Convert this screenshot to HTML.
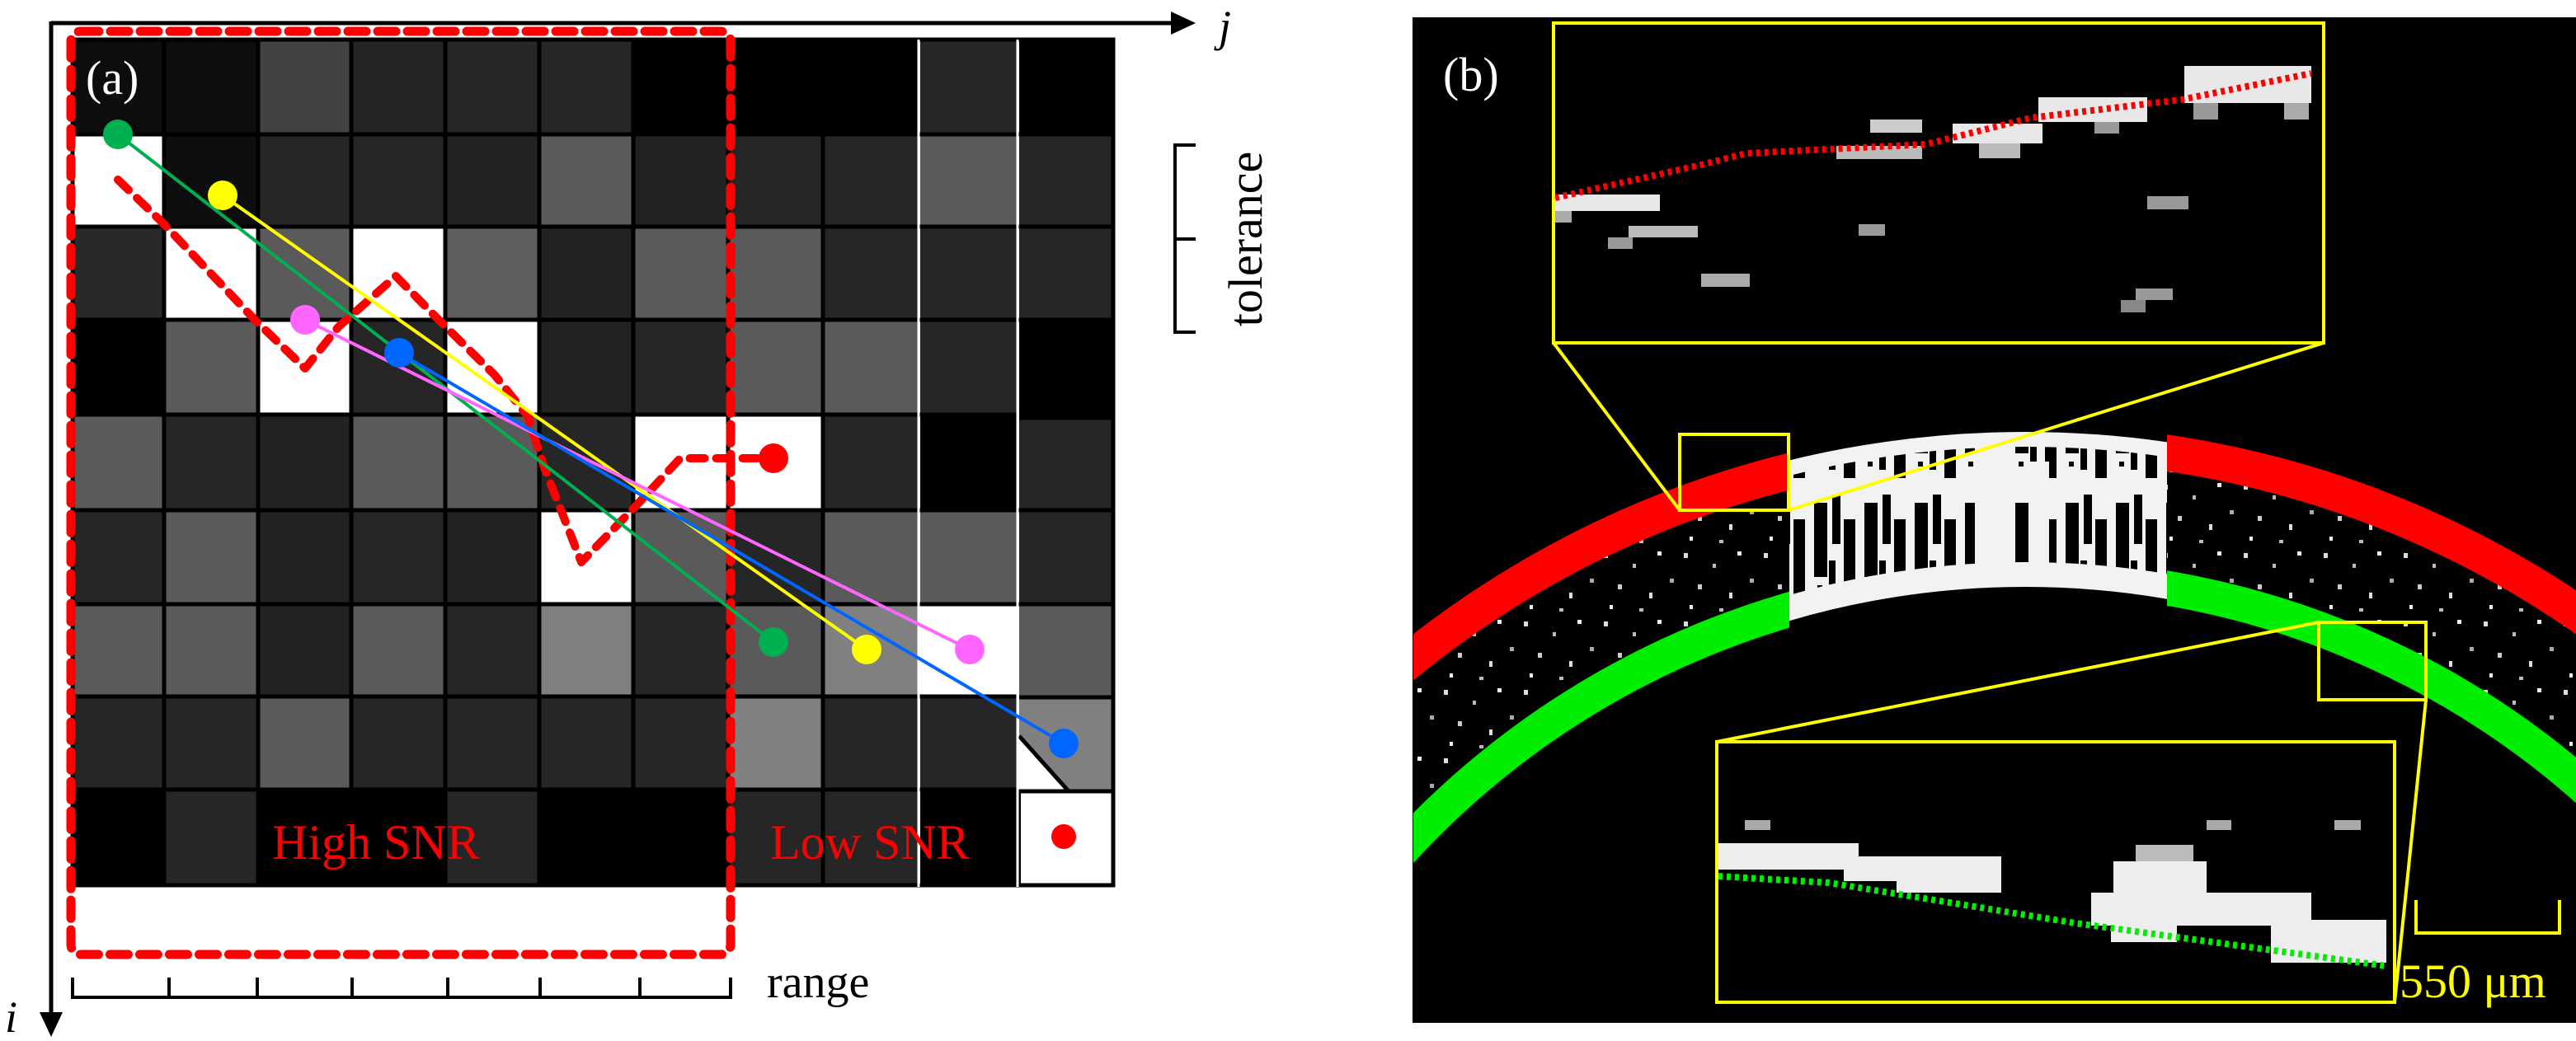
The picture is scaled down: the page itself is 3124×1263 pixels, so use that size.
<!DOCTYPE html>
<html><head><meta charset="utf-8"><style>
html,body{margin:0;padding:0;background:#fff;width:3124px;height:1263px;overflow:hidden;}
svg{display:block;position:absolute;left:0;top:0;}
svg text{font-family:"Liberation Serif",serif !important;}
</style></head><body>
<svg width="3124" height="1263" viewBox="0 0 3124 1263" xmlns="http://www.w3.org/2000/svg">
<defs>
<pattern id="spk" width="97" height="83" patternUnits="userSpaceOnUse">
<rect width="97" height="83" fill="#000"/>
<rect x="5" y="7" width="5" height="6" fill="#ddd"/>
<rect x="40" y="20" width="4" height="5" fill="#bbb"/>
<rect x="70" y="5" width="5" height="5" fill="#eee"/>
<rect x="22" y="45" width="5" height="6" fill="#ccc"/>
<rect x="60" y="55" width="4" height="7" fill="#ddd"/>
<rect x="85" y="38" width="5" height="5" fill="#aaa"/>
<rect x="12" y="70" width="4" height="5" fill="#eee"/>
<rect x="48" y="74" width="5" height="4" fill="#bbb"/>
</pattern>
<pattern id="blk" width="61" height="150" patternUnits="userSpaceOnUse">
<rect width="61" height="150" fill="#f2f2f2"/>
<rect x="4" y="10" width="16" height="90" fill="#000"/>
<rect x="26" y="0" width="10" height="60" fill="#000"/>
<rect x="40" y="30" width="14" height="100" fill="#000"/>
<rect x="22" y="80" width="8" height="40" fill="#000"/>
<rect x="8" y="110" width="6" height="6" fill="#000"/>
</pattern>
<clipPath id="cl"><rect x="1714" y="20" width="456" height="1220"/></clipPath>
<clipPath id="cm"><rect x="2170" y="20" width="458" height="1220"/></clipPath>
<clipPath id="cr"><rect x="2628" y="20" width="496" height="1220"/></clipPath>
<clipPath id="cb"><rect x="1714" y="20" width="1410" height="1220"/></clipPath>
</defs>

<g id="grid">
<rect x="88" y="48" width="111" height="115" fill="#0d0d0d"/>
<rect x="199" y="48" width="114" height="115" fill="#0e0e0e"/>
<rect x="313" y="48" width="113" height="115" fill="#424242"/>
<rect x="426" y="48" width="114" height="115" fill="#242424"/>
<rect x="540" y="48" width="114" height="115" fill="#262626"/>
<rect x="654" y="48" width="114" height="115" fill="#262626"/>
<rect x="768" y="48" width="115" height="115" fill="#000"/>
<rect x="883" y="48" width="115" height="115" fill="#000"/>
<rect x="998" y="48" width="115" height="115" fill="#000"/>
<rect x="1116" y="48" width="117" height="115" fill="#262626"/>
<rect x="1236" y="48" width="114" height="115" fill="#000"/>
<rect x="88" y="163" width="111" height="112" fill="#fff"/>
<rect x="199" y="163" width="114" height="112" fill="#0e0e0e"/>
<rect x="313" y="163" width="113" height="112" fill="#262626"/>
<rect x="426" y="163" width="114" height="112" fill="#262626"/>
<rect x="540" y="163" width="114" height="112" fill="#222"/>
<rect x="654" y="163" width="114" height="112" fill="#5a5a5a"/>
<rect x="768" y="163" width="115" height="112" fill="#222"/>
<rect x="883" y="163" width="115" height="112" fill="#262626"/>
<rect x="998" y="163" width="115" height="112" fill="#262626"/>
<rect x="1116" y="163" width="117" height="112" fill="#5a5a5a"/>
<rect x="1236" y="163" width="114" height="112" fill="#262626"/>
<rect x="88" y="275" width="111" height="113" fill="#292929"/>
<rect x="199" y="275" width="114" height="113" fill="#fff"/>
<rect x="313" y="275" width="113" height="113" fill="#5a5a5a"/>
<rect x="426" y="275" width="114" height="113" fill="#fff"/>
<rect x="540" y="275" width="114" height="113" fill="#5e5e5e"/>
<rect x="654" y="275" width="114" height="113" fill="#222"/>
<rect x="768" y="275" width="115" height="113" fill="#5a5a5a"/>
<rect x="883" y="275" width="115" height="113" fill="#5a5a5a"/>
<rect x="998" y="275" width="115" height="113" fill="#262626"/>
<rect x="1116" y="275" width="117" height="113" fill="#262626"/>
<rect x="1236" y="275" width="114" height="113" fill="#262626"/>
<rect x="88" y="388" width="111" height="115" fill="#000"/>
<rect x="199" y="388" width="114" height="115" fill="#5a5a5a"/>
<rect x="313" y="388" width="113" height="115" fill="#fff"/>
<rect x="426" y="388" width="114" height="115" fill="#262626"/>
<rect x="540" y="388" width="114" height="115" fill="#fff"/>
<rect x="654" y="388" width="114" height="115" fill="#222"/>
<rect x="768" y="388" width="115" height="115" fill="#262626"/>
<rect x="883" y="388" width="115" height="115" fill="#5a5a5a"/>
<rect x="998" y="388" width="115" height="115" fill="#5a5a5a"/>
<rect x="1116" y="388" width="117" height="115" fill="#262626"/>
<rect x="1236" y="388" width="114" height="119" fill="#000"/>
<rect x="88" y="503" width="111" height="116" fill="#5a5a5a"/>
<rect x="199" y="503" width="114" height="116" fill="#262626"/>
<rect x="313" y="503" width="113" height="116" fill="#222"/>
<rect x="426" y="503" width="114" height="116" fill="#5a5a5a"/>
<rect x="540" y="503" width="114" height="116" fill="#5a5a5a"/>
<rect x="654" y="503" width="114" height="116" fill="#262626"/>
<rect x="768" y="503" width="115" height="116" fill="#fff"/>
<rect x="883" y="503" width="115" height="116" fill="#fff"/>
<rect x="998" y="503" width="115" height="116" fill="#262626"/>
<rect x="1116" y="503" width="117" height="116" fill="#000"/>
<rect x="1236" y="507" width="114" height="112" fill="#262626"/>
<rect x="88" y="619" width="111" height="114" fill="#262626"/>
<rect x="199" y="619" width="114" height="114" fill="#5a5a5a"/>
<rect x="313" y="619" width="113" height="114" fill="#222"/>
<rect x="426" y="619" width="114" height="114" fill="#262626"/>
<rect x="540" y="619" width="114" height="114" fill="#222"/>
<rect x="654" y="619" width="114" height="114" fill="#fff"/>
<rect x="768" y="619" width="115" height="114" fill="#5a5a5a"/>
<rect x="883" y="619" width="115" height="114" fill="#262626"/>
<rect x="998" y="619" width="115" height="114" fill="#5a5a5a"/>
<rect x="1116" y="619" width="117" height="114" fill="#5a5a5a"/>
<rect x="1236" y="619" width="114" height="114" fill="#262626"/>
<rect x="88" y="733" width="111" height="112" fill="#5a5a5a"/>
<rect x="199" y="733" width="114" height="112" fill="#5a5a5a"/>
<rect x="313" y="733" width="113" height="112" fill="#222"/>
<rect x="426" y="733" width="114" height="112" fill="#5a5a5a"/>
<rect x="540" y="733" width="114" height="112" fill="#262626"/>
<rect x="654" y="733" width="114" height="112" fill="#808080"/>
<rect x="768" y="733" width="115" height="112" fill="#262626"/>
<rect x="883" y="733" width="115" height="112" fill="#5a5a5a"/>
<rect x="998" y="733" width="115" height="112" fill="#808080"/>
<rect x="1116" y="733" width="117" height="112" fill="#fff"/>
<rect x="1236" y="733" width="114" height="113" fill="#5a5a5a"/>
<rect x="88" y="845" width="111" height="113" fill="#262626"/>
<rect x="199" y="845" width="114" height="113" fill="#262626"/>
<rect x="313" y="845" width="113" height="113" fill="#5a5a5a"/>
<rect x="426" y="845" width="114" height="113" fill="#262626"/>
<rect x="540" y="845" width="114" height="113" fill="#262626"/>
<rect x="654" y="845" width="114" height="113" fill="#262626"/>
<rect x="768" y="845" width="115" height="113" fill="#262626"/>
<rect x="883" y="845" width="115" height="113" fill="#808080"/>
<rect x="998" y="845" width="115" height="113" fill="#262626"/>
<rect x="1116" y="845" width="117" height="113" fill="#262626"/>
<rect x="1236" y="846" width="114" height="114" fill="#808080"/>
<polygon points="1236,893 1236,960 1296,960" fill="#fff"/>
<line x1="1236" y1="893" x2="1296" y2="960" stroke="#000" stroke-width="5"/>
<rect x="88" y="958" width="111" height="116" fill="#000"/>
<rect x="199" y="958" width="114" height="116" fill="#262626"/>
<rect x="313" y="958" width="113" height="116" fill="#000"/>
<rect x="426" y="958" width="114" height="116" fill="#000"/>
<rect x="540" y="958" width="114" height="116" fill="#262626"/>
<rect x="654" y="958" width="114" height="116" fill="#000"/>
<rect x="768" y="958" width="115" height="116" fill="#000"/>
<rect x="883" y="958" width="115" height="116" fill="#262626"/>
<rect x="998" y="958" width="115" height="116" fill="#262626"/>
<rect x="1116" y="958" width="117" height="116" fill="#000"/>
<rect x="1236" y="960" width="114" height="114" fill="#fff" stroke="#000" stroke-width="4"/>
</g>
<g stroke="#000" stroke-width="5">
<line x1="199" y1="48" x2="199" y2="1074"/>
<line x1="313" y1="48" x2="313" y2="1074"/>
<line x1="426" y1="48" x2="426" y2="1074"/>
<line x1="540" y1="48" x2="540" y2="1074"/>
<line x1="654" y1="48" x2="654" y2="1074"/>
<line x1="768" y1="48" x2="768" y2="1074"/>
<line x1="883" y1="48" x2="883" y2="1074"/>
<line x1="998" y1="48" x2="998" y2="1074"/>
<line x1="88" y1="163" x2="1350" y2="163"/>
<line x1="88" y1="275" x2="1350" y2="275"/>
<line x1="88" y1="388" x2="1350" y2="388"/>
<line x1="88" y1="503" x2="1233" y2="503"/>
<line x1="1236" y1="507" x2="1350" y2="507"/>
<line x1="88" y1="619" x2="1350" y2="619"/>
<line x1="88" y1="733" x2="1350" y2="733"/>
<line x1="88" y1="845" x2="1233" y2="845"/>
<line x1="1236" y1="846" x2="1350" y2="846"/>
<line x1="88" y1="958" x2="1233" y2="958"/>
<line x1="1236" y1="960" x2="1350" y2="960"/>
<rect x="88" y="48" width="1262" height="1026" fill="none"/>
</g>
<line x1="1114" y1="48" x2="1114" y2="1076" stroke="#fff" stroke-width="3"/>
<line x1="1234" y1="48" x2="1234" y2="1076" stroke="#fff" stroke-width="3"/>

<line x1="62" y1="28" x2="1425" y2="28" stroke="#000" stroke-width="5"/>
<polygon points="1420,14 1450,28 1420,42" fill="#000"/>
<line x1="62" y1="26" x2="62" y2="1232" stroke="#000" stroke-width="5"/>
<polygon points="48,1228 62,1258 76,1228" fill="#000"/>
<text x="1478" y="50" font-size="54" font-style="italic">j</text>
<text x="6" y="1252" font-size="54" font-style="italic">i</text>

<rect x="86" y="38" width="800" height="1120" rx="12" fill="none" stroke="#f00" stroke-width="11" stroke-dasharray="22 14" stroke-linecap="round"/>

<polyline points="143,218 197,270 310,389 370,447 410,397 480,335 532,388 600,455 640,505 660,567 705,682 770,615 825,556 938,556" fill="none" stroke="#f00" stroke-width="10" stroke-dasharray="18 14" stroke-linecap="round" stroke-linejoin="round"/>

<g stroke-width="4">
<line x1="143" y1="163" x2="938" y2="779" stroke="#00b050"/>
<line x1="270" y1="237" x2="1051" y2="788" stroke="#ffff00"/>
<line x1="370" y1="388" x2="1176" y2="788" stroke="#ff66ff"/>
<line x1="484" y1="428" x2="1290" y2="902" stroke="#0066ff"/>
</g>
<circle cx="143" cy="163" r="18" fill="#00b050"/>
<circle cx="938" cy="779" r="18" fill="#00b050"/>
<circle cx="270" cy="237" r="18" fill="#ffff00"/>
<circle cx="1051" cy="788" r="18" fill="#ffff00"/>
<circle cx="370" cy="388" r="18" fill="#ff66ff"/>
<circle cx="1176" cy="788" r="18" fill="#ff66ff"/>
<circle cx="484" cy="428" r="18" fill="#0066ff"/>
<circle cx="1290" cy="902" r="18" fill="#0066ff"/>
<circle cx="938" cy="556" r="18" fill="#f00"/>
<circle cx="1290" cy="1015" r="15" fill="#f00"/>

<text x="104" y="114" font-size="58" fill="#fff">(a)</text>
<text x="330" y="1042" font-size="60" fill="#f00">High SNR</text>
<text x="934" y="1042" font-size="60" fill="#f00">Low SNR</text>

<g stroke="#000" stroke-width="4">
<line x1="88" y1="1210" x2="886" y2="1210"/>
<line x1="88" y1="1186" x2="88" y2="1212"/>
<line x1="205" y1="1186" x2="205" y2="1212"/>
<line x1="312" y1="1186" x2="312" y2="1212"/>
<line x1="427" y1="1186" x2="427" y2="1212"/>
<line x1="543" y1="1186" x2="543" y2="1212"/>
<line x1="655" y1="1186" x2="655" y2="1212"/>
<line x1="776" y1="1186" x2="776" y2="1212"/>
<line x1="886" y1="1186" x2="886" y2="1212"/>
</g>
<text x="930" y="1210" font-size="56">range</text>

<g stroke="#000" stroke-width="4" fill="none">
<polyline points="1450,176 1425,176 1425,403 1450,403"/>
<line x1="1425" y1="290" x2="1450" y2="290"/>
</g>
<text transform="translate(1530,290) rotate(-90)" text-anchor="middle" font-size="58">tolerance</text>

<rect x="1713" y="21" width="1411" height="1220" fill="#000"/>
<g clip-path="url(#cb)">
<circle cx="2456" cy="1725" r="1104" fill="none" stroke="url(#spk)" stroke-width="150"/>
<g clip-path="url(#cl)">
<circle cx="2456" cy="1725" r="1188" fill="none" stroke="#f00" stroke-width="44"/>
<circle cx="2456" cy="1725" r="1026" fill="none" stroke="#00ee00" stroke-width="42"/>
</g>
<g clip-path="url(#cr)">
<circle cx="2456" cy="1725" r="1188" fill="none" stroke="#f00" stroke-width="44"/>
<circle cx="2456" cy="1725" r="1026" fill="none" stroke="#00ee00" stroke-width="42"/>
</g>
<g clip-path="url(#cm)">
<circle cx="2456" cy="1725" r="1107" fill="none" stroke="url(#blk)" stroke-width="186"/>
<circle cx="2456" cy="1725" r="1028" fill="none" stroke="#f2f2f2" stroke-width="30"/>
<circle cx="2456" cy="1725" r="1192" fill="none" stroke="#f2f2f2" stroke-width="18"/>
<rect x="2395" y="530" width="45" height="170" fill="#f2f2f2"/>
<rect x="2460" y="560" width="25" height="140" fill="#f2f2f2"/>
</g>
</g>

<rect x="1884" y="28" width="934" height="388" fill="#000"/>
<g fill="#e8e8e8">
<rect x="1886" y="236" width="127" height="20"/>
<rect x="1886" y="256" width="20" height="14" fill="#aaa"/>
<rect x="1975" y="274" width="84" height="14" fill="#bbb"/>
<rect x="1950" y="288" width="30" height="14" fill="#999"/>
<rect x="2254" y="272" width="32" height="14" fill="#999"/>
<rect x="2063" y="332" width="59" height="16" fill="#aaa"/>
<rect x="2604" y="238" width="50" height="16" fill="#999"/>
<rect x="2590" y="350" width="45" height="14" fill="#999"/>
<rect x="2572" y="364" width="30" height="15" fill="#888"/>
<rect x="2268" y="145" width="63" height="16" fill="#ccc"/>
<rect x="2227" y="177" width="104" height="16" fill="#bbb"/>
<rect x="2368" y="150" width="109" height="24"/>
<rect x="2400" y="174" width="50" height="18" fill="#bbb"/>
<rect x="2472" y="118" width="132" height="30"/>
<rect x="2540" y="148" width="30" height="14" fill="#999"/>
<rect x="2649" y="80" width="154" height="45"/>
<rect x="2660" y="125" width="30" height="20" fill="#999"/>
<rect x="2770" y="125" width="30" height="20" fill="#aaa"/>
</g>
<polyline points="1886,240 2063,200 2118,186 2336,175 2463,143 2645,121 2803,89" fill="none" stroke="#f00" stroke-width="8" stroke-dasharray="5 5"/>
<rect x="1884" y="28" width="934" height="388" fill="none" stroke="#ffff00" stroke-width="4"/>

<rect x="2082" y="900" width="822" height="316" fill="#000"/>
<g fill="#eee">
<rect x="2116" y="995" width="31" height="12" fill="#aaa"/>
<rect x="2676" y="995" width="30" height="12" fill="#aaa"/>
<rect x="2831" y="995" width="32" height="12" fill="#aaa"/>
<rect x="2084" y="1023" width="170" height="32"/>
<rect x="2236" y="1039" width="191" height="30"/>
<rect x="2300" y="1069" width="127" height="14"/>
<rect x="2590" y="1025" width="70" height="20" fill="#bbb"/>
<rect x="2563" y="1045" width="113" height="38"/>
<rect x="2536" y="1083" width="267" height="40"/>
<rect x="2560" y="1123" width="80" height="20"/>
<rect x="2754" y="1116" width="140" height="52"/>
</g>
<polyline points="2084,1063 2218,1071 2517,1120 2894,1172" fill="none" stroke="#00ee00" stroke-width="8" stroke-dasharray="5 5"/>
<rect x="2082" y="900" width="822" height="316" fill="none" stroke="#ffff00" stroke-width="4"/>

<g stroke="#ffff00" stroke-width="4" fill="none">
<rect x="2037" y="527" width="132" height="92"/>
<line x1="1884" y1="416" x2="2037" y2="619"/>
<line x1="2818" y1="416" x2="2169" y2="619"/>
<rect x="2812" y="755" width="130" height="94"/>
<line x1="2082" y1="900" x2="2812" y2="755"/>
<line x1="2904" y1="1216" x2="2942" y2="849"/>
<polyline points="2930,1092 2930,1132 3104,1132 3104,1092"/>
</g>
<text x="1750" y="110" font-size="58" fill="#fff">(b)</text>
<text x="2910" y="1210" font-size="58" fill="#ffff00">550 μm</text>
</svg>
</body></html>
